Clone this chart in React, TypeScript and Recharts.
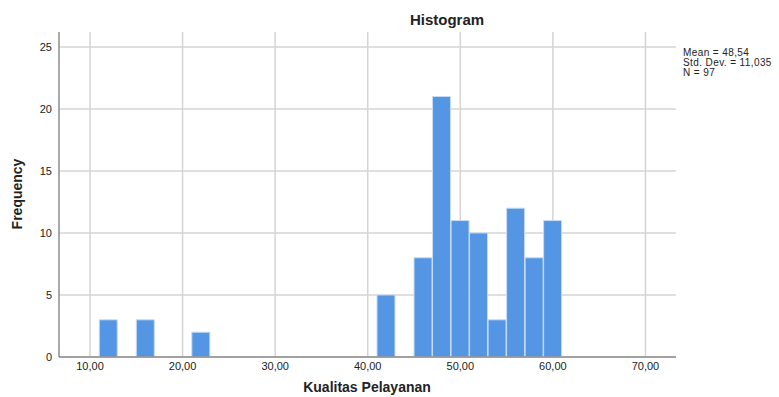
import React from 'react';
import { ComposedChart, Bar, XAxis, YAxis, CartesianGrid } from 'recharts';

// bin centres (bins are 2 units wide)
const binCenters = [12, 16, 22, 42, 46, 48, 50, 52, 54, 56, 58, 60];
const frequencies = [3, 3, 2, 5, 8, 21, 11, 10, 3, 12, 8, 11];
const xTicks = [10, 20, 30, 40, 50, 60, 70];
const yTicks = [0, 5, 10, 15, 20, 25];
const statsLines = ['Mean = 48,54', 'Std. Dev. = 11,035', 'N = 97'];

const data = binCenters.map((x, i) => ({ x, count: frequencies[i] }));

const FONT = '"Liberation Sans", Arial, sans-serif';

const App: React.FC = () => {
  return (
    <div style={{ position: 'absolute', left: 0, top: 0, width: 779, height: 397, background: '#fff', fontFamily: FONT }}>
      <ComposedChart
        width={779}
        height={397}
        data={data}
        margin={{ top: 32, right: 103, bottom: 15, left: 19 }}
      >
        <CartesianGrid stroke="#d4d4d4" strokeWidth={1.5} syncWithTicks />
        <XAxis
          dataKey="x"
          type="number"
          domain={[6.65, 73.3]}
          ticks={xTicks}
          tickFormatter={(v: number) => v.toFixed(2).replace('.', ',')}
          tickLine={false}
          tickSize={0}
          tickMargin={5}
          height={25}
          axisLine={{ stroke: '#8c8c8c', strokeWidth: 1.5 }}
          tick={{ fill: '#222', fontSize: 11, fontFamily: FONT }}
          allowDataOverflow
        />
        <YAxis
          type="number"
          domain={[0, 26.2]}
          ticks={yTicks}
          tickLine={false}
          tickSize={0}
          tickMargin={7}
          width={40}
          axisLine={{ stroke: '#8c8c8c', strokeWidth: 1.5 }}
          tick={{ fill: '#222', fontSize: 11, fontFamily: FONT }}
          allowDataOverflow
        />
        <Bar dataKey="count" barSize={18} fill="#5596e4" stroke="#c6dcf6" strokeWidth={1} isAnimationActive={false} />
      </ComposedChart>
      <div style={{ position: 'absolute', left: 367, width: 160, top: 11, textAlign: 'center', fontWeight: 'bold', fontSize: 15, color: '#222' }}>
        Histogram
      </div>
      <div style={{ position: 'absolute', left: 683, top: 48, fontSize: 10, lineHeight: '10px', letterSpacing: '0.4px', color: '#222', whiteSpace: 'nowrap' }}>
        {statsLines.map((s) => (
          <div key={s}>{s}</div>
        ))}
      </div>
      <div style={{ position: 'absolute', left: 267, width: 200, top: 379, textAlign: 'center', fontWeight: 'bold', fontSize: 14, color: '#222' }}>
        Kualitas Pelayanan
      </div>
      <div style={{ position: 'absolute', left: 17, top: 195, width: 0, height: 0 }}>
        <div style={{ position: 'absolute', left: -60, top: -9, width: 120, textAlign: 'center', transform: 'rotate(-90deg)', fontWeight: 'bold', fontSize: 14, color: '#222', whiteSpace: 'nowrap' }}>
          Frequency
        </div>
      </div>
    </div>
  );
};

export default App;
